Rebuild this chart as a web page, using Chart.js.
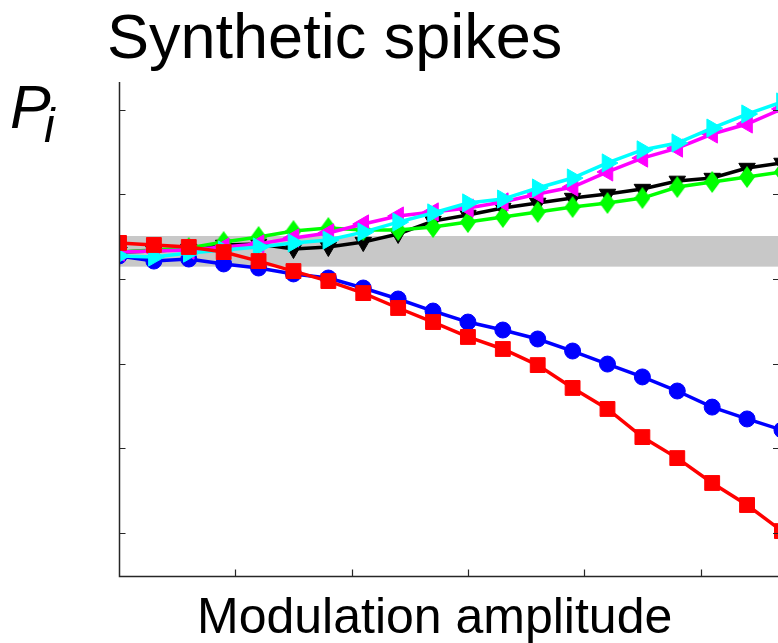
<!DOCTYPE html>
<html>
<head>
<meta charset="utf-8">
<script src="https://cdn.jsdelivr.net/npm/chart.js@4.4.0/dist/chart.umd.min.js"></script>
<style>
  html, body { margin: 0; padding: 0; background: #fff; }
  canvas { display: block; }
</style>
</head>
<body>
<canvas id="chart" width="778" height="643"></canvas>
<script>
// modulation amplitude (x) and the six P_i curves
const amplitudes = [0, 0.03, 0.06, 0.09, 0.12, 0.15, 0.18, 0.21, 0.24, 0.27, 0.30, 0.33, 0.36, 0.39, 0.42, 0.45, 0.48, 0.51, 0.54, 0.57];

const blueValues = [0.1636, 0.1606, 0.1618, 0.1589, 0.1565, 0.1530, 0.1506, 0.1447, 0.1382, 0.1311, 0.1246, 0.1199, 0.1146, 0.1075, 0.0998, 0.0922, 0.0839, 0.0744, 0.0674, 0.0609];
const redValues = [0.1713, 0.1701, 0.1689, 0.1659, 0.1606, 0.1547, 0.1488, 0.1417, 0.1329, 0.1246, 0.1158, 0.1087, 0.0992, 0.0857, 0.0733, 0.0567, 0.0443, 0.0296, 0.0166, 0.0012];
const cyanValues = [0.1636, 0.1630, 0.1653, 0.1671, 0.1689, 0.1713, 0.1730, 0.1777, 0.1836, 0.1890, 0.1949, 0.1972, 0.2037, 0.2096, 0.2185, 0.2262, 0.2303, 0.2391, 0.2474, 0.2545];
const magentaValues = [0.1659, 0.1665, 0.1671, 0.1689, 0.1707, 0.1742, 0.1772, 0.1825, 0.1872, 0.1896, 0.1919, 0.1955, 0.2002, 0.2043, 0.2132, 0.2214, 0.2273, 0.2356, 0.2415, 0.2504];
const blackValues = [0.1659, 0.1665, 0.1677, 0.1701, 0.1707, 0.1677, 0.1689, 0.1718, 0.1766, 0.1842, 0.1878, 0.1919, 0.1949, 0.1978, 0.2002, 0.2031, 0.2079, 0.2096, 0.2155, 0.2185];
const greenValues = [0.1659, 0.1671, 0.1683, 0.1718, 0.1748, 0.1783, 0.1801, 0.1789, 0.1789, 0.1807, 0.1836, 0.1866, 0.1896, 0.1925, 0.1949, 0.1978, 0.2043, 0.2073, 0.2102, 0.2132];

const xTicks = [0.1, 0.2, 0.3, 0.4, 0.5];
const yTicks = [0, 0.05, 0.1, 0.15, 0.2, 0.25];
const chanceBand = [0.1573, 0.1754];

const titleText = 'Synthetic spikes';
const yLabel = 'P';
const ySubscript = 'i';
const xLabel = 'Modulation amplitude';

const toPoints = (values) => amplitudes.map((a, i) => ({ x: a, y: values[i] }));

// matlab diamonds are taller than wide, so draw one on a small canvas
const makeDiamond = (color, w, h) => {
  const c = document.createElement('canvas');
  c.width = w;
  c.height = h;
  const g = c.getContext('2d');
  g.fillStyle = color;
  g.beginPath();
  g.moveTo(w / 2, 0);
  g.lineTo(w, h / 2);
  g.lineTo(w / 2, h);
  g.lineTo(0, h / 2);
  g.closePath();
  g.fill();
  return c;
};

const makeSeries = (values, color, style, radius, rotation, order) => ({
  data: toPoints(values),
  borderColor: color,
  backgroundColor: color,
  borderWidth: 3.5,
  pointStyle: style,
  pointRadius: radius,
  pointRotation: rotation,
  pointBorderWidth: 1,
  pointBorderColor: color,
  pointBackgroundColor: color,
  tension: 0,
  order: order
});

// gray chance band behind the curves
const bandPlugin = {
  id: 'band',
  beforeDatasetsDraw(chart) {
    const { ctx, chartArea, scales } = chart;
    const top = scales.y.getPixelForValue(chanceBand[1]);
    const bottom = scales.y.getPixelForValue(chanceBand[0]);
    ctx.save();
    ctx.fillStyle = '#c8c8c8';
    ctx.fillRect(chartArea.left, top, chartArea.right - chartArea.left, bottom - top);
    ctx.restore();
  }
};

// matlab-ish axes with inward ticks, plus the texts
const axesPlugin = {
  id: 'axes',
  afterDraw(chart) {
    const { ctx, chartArea, scales } = chart;
    const left = chartArea.left + 0.5;
    const bottom = chartArea.bottom + 0.5;
    ctx.save();
    ctx.strokeStyle = '#262626';
    ctx.lineWidth = 1.5;
    ctx.beginPath();
    ctx.moveTo(left, chartArea.top);
    ctx.lineTo(left, bottom);
    ctx.lineTo(chartArea.right, bottom);
    ctx.stroke();

    ctx.lineWidth = 1.2;
    ctx.beginPath();
    yTicks.forEach((v) => {
      const y = Math.round(scales.y.getPixelForValue(v)) + 0.5;
      ctx.moveTo(left, y);
      ctx.lineTo(left + 6, y);
      ctx.moveTo(chartArea.right, y);
      ctx.lineTo(chartArea.right - 5, y);
    });
    xTicks.forEach((v) => {
      const x = Math.round(scales.x.getPixelForValue(v)) + 0.5;
      ctx.moveTo(x, bottom);
      ctx.lineTo(x, bottom - 7);
    });
    ctx.stroke();

    ctx.fillStyle = '#000';
    ctx.textBaseline = 'alphabetic';
    ctx.textAlign = 'left';
    ctx.font = '63px "Liberation Sans", Arial, sans-serif';
    ctx.fillText(titleText, 107, 58);

    ctx.font = 'italic 61px "Liberation Sans", Arial, sans-serif';
    ctx.fillText(yLabel, 10, 128);
    ctx.font = 'italic 48px "Liberation Sans", Arial, sans-serif';
    ctx.fillText(ySubscript, 44, 142);

    ctx.font = '50px "Liberation Sans", Arial, sans-serif';
    ctx.fillText(xLabel, 197, 633);
    ctx.restore();
  }
};

new Chart(document.getElementById('chart'), {
  type: 'line',
  data: {
    datasets: [
      makeSeries(redValues, '#ff0000', 'rect', 10.5, 0, 0),
      makeSeries(cyanValues, '#00ffff', 'triangle', 10.5, 90, 1),
      makeSeries(magentaValues, '#ff00ff', 'triangle', 10.5, 270, 2),
      makeSeries(greenValues, '#00ff00', makeDiamond('#00ff00', 16, 22), 10, 0, 3),
      makeSeries(blackValues, '#000000', 'triangle', 9.5, 180, 4),
      makeSeries(blueValues, '#0000ff', 'circle', 8, 0, 5)
    ]
  },
  options: {
    responsive: false,
    animation: false,
    events: [],
    layout: { autoPadding: false, padding: { left: 119, top: 82, right: 0, bottom: 67 } },
    plugins: { legend: { display: false }, tooltip: { enabled: false }, title: { display: false } },
    scales: {
      x: { type: 'linear', min: 0, max: 0.5666, display: false },
      y: { type: 'linear', min: -0.0253, max: 0.2663, display: false }
    }
  },
  plugins: [bandPlugin, axesPlugin]
});
</script>
</body>
</html>
